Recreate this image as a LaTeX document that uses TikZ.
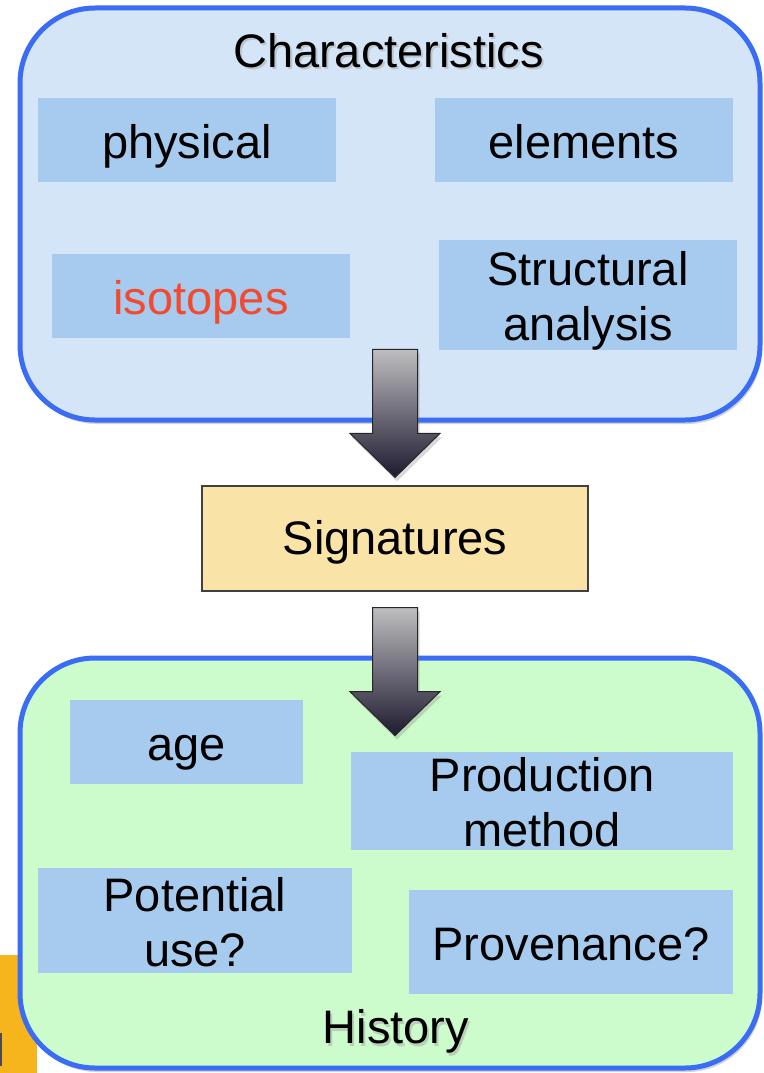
\documentclass[tikz,border=0pt]{standalone}
\usepackage{fontspec}
\setmainfont{Liberation Sans}
\usetikzlibrary{shadows,calc}

\definecolor{frameblue}{HTML}{3B6CF5}
\definecolor{charfill}{HTML}{D3E5F6}
\definecolor{histfill}{HTML}{CCFCCC}
\definecolor{itemblue}{HTML}{A6CBEF}
\definecolor{sigfill}{HTML}{FAE3A7}
\definecolor{isored}{HTML}{F24A2F}
\definecolor{tabamber}{HTML}{F6B51C}
\definecolor{arrowtop}{HTML}{BEBEC0}
\definecolor{arrowbot}{HTML}{1E1A30}

\begin{document}
\begin{tikzpicture}[x=1pt,y=-1pt,
	panel/.style={draw=frameblue, line width=5pt, rounded corners=75pt, minimum width=740pt, inner sep=0pt,
		drop shadow={opacity=.35, shadow xshift=2pt, shadow yshift=-4pt}},
	item/.style={fill=itemblue, inner sep=0pt, align=center, font=\fontsize{47}{55}\selectfont,
		text height=36pt, text depth=0pt},
	twoline/.style={text height=91pt, text depth=0pt},
	heading/.style={font=\fontsize{47}{55}\selectfont, text height=36pt, text depth=0pt},
	bigarrow/.style={draw=black!85, line width=1pt, top color=arrowtop, bottom color=arrowbot,
		drop shadow={opacity=.3, shadow xshift=2pt, shadow yshift=-4pt}}
	]
	\useasboundingbox (0,0) rectangle (763,1073);
	
	% the tab left of the lower panel
	\fill[tabamber] (0,955) rectangle (37,1073);
	\draw[black!70, line width=1.5pt] (0.75,1033) -- (0.75,1066);
	
	% panels
	\node[panel, fill=charfill, minimum height=412pt] (charbox) at (390,214) {};
	\node[panel, fill=histfill, minimum height=410pt] (histbox) at (390,863) {};
	
	% characteristics
	\node[heading, text=black!35, opacity=.5] at (390.5,52) {Characteristics};
	\node[heading] (chartitle) at (388.5,49) {Characteristics};
	\node[item, minimum width=298pt, minimum height=84pt] (phys) at (187,140) {physical};
	\node[item, minimum width=298pt, minimum height=84pt] (elem) at (584,140) {elements};
	\node[item, minimum width=298pt, minimum height=84pt, text=isored] (iso) at (201,296) {isotopes};
	\node[item, twoline, minimum width=298pt, minimum height=110pt] (struct) at (588,295) {Structural\\analysis};
	
	% signatures
	\node[draw=black!75, line width=1.2pt, fill=sigfill, minimum width=386pt, minimum height=105pt,
		inner sep=0pt, heading, text height=32pt] (sig) at (395,538.5) {Signatures};
	
	% history
	\node[item, minimum width=233pt, minimum height=84pt] (age) at (186.5,742) {age};
	\node[item, twoline, minimum width=382pt, minimum height=98pt] (prod) at (542,801) {Production\\method};
	\node[item, twoline, minimum width=314pt, minimum height=105pt] (pot) at (195,920.5) {Potential\\use?};
	\node[item, minimum width=324pt, minimum height=104pt] (prov) at (571,942) {Provenance?};
	\node[heading, text=black!35, opacity=.5] at (398,1028) {History};
	\node[heading] (histtitle) at (396,1025) {History};
	
	% block arrows
	\draw[bigarrow] ($(sig.north)+(0,-8)$) -- ++(-45,-44) -- ++(22.5,0) -- ++(0,-84) -- ++(45,0)
		-- ++(0,84) -- ++(22.5,0) -- cycle;
	\draw[bigarrow] ($(sig.south)+(0,144)$) -- ++(-45,-44) -- ++(22.5,0) -- ++(0,-84) -- ++(45,0)
		-- ++(0,84) -- ++(22.5,0) -- cycle;
\end{tikzpicture}
\end{document}
